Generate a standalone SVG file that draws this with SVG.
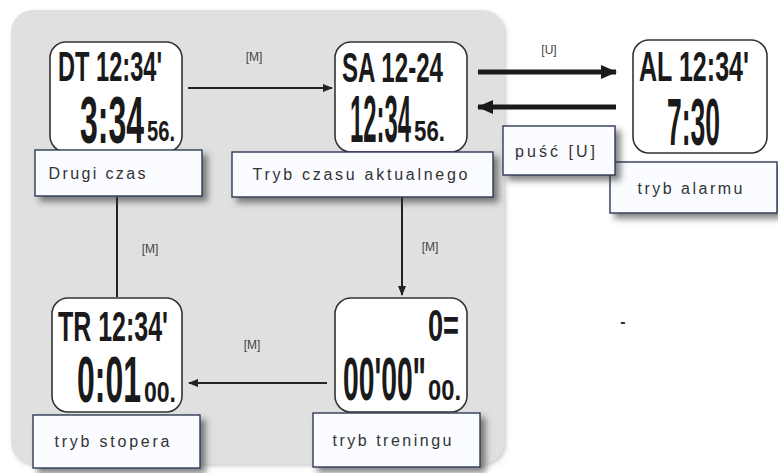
<svg xmlns="http://www.w3.org/2000/svg" width="778" height="473" viewBox="0 0 778 473">
<style>
.lcd{fill:#fff;stroke:#333;stroke-width:1.6}
.lbl{fill:#fafcff;stroke:#2e3a55;stroke-width:1.4;filter:url(#sh)}
.lt{font-family:"Liberation Sans",Arial,sans-serif;font-size:16px;fill:#333;text-anchor:middle}
.key{font-family:"Liberation Sans",Arial,sans-serif;font-size:12px;fill:#444;text-anchor:middle}
.seg{font-family:"Liberation Sans","DejaVu Sans",sans-serif;font-weight:bold;fill:#1a1a1a}
.thin{stroke:#222;stroke-width:2;fill:none}
.thick{stroke:#1a1a1a;stroke-width:5;fill:none}
</style>
<defs>
<filter id="sh" x="-10%" y="-20%" width="130%" height="160%">
<feDropShadow dx="5" dy="5" stdDeviation="3" flood-color="#333" flood-opacity="0.6"/>
</filter>
<filter id="psh" x="-5%" y="-5%" width="110%" height="110%">
<feDropShadow dx="2" dy="2" stdDeviation="2" flood-color="#999" flood-opacity="0.5"/>
</filter>
<marker id="ah" markerWidth="10" markerHeight="8" refX="9" refY="4" orient="auto" markerUnits="userSpaceOnUse">
<path d="M0,0 L10,4 L0,8 z" fill="#222"/>
</marker>
<marker id="ahb" markerWidth="16" markerHeight="14" refX="15" refY="7" orient="auto" markerUnits="userSpaceOnUse">
<path d="M0,0 L16,7 L0,14 z" fill="#1a1a1a"/>
</marker>
</defs>
<rect x="11" y="10" width="493" height="454" rx="22" fill="#e0e0e0" filter="url(#psh)"/>

<g id="connectors">
<line class="thin" x1="188" y1="88" x2="332" y2="88" marker-end="url(#ah)"/>
<line class="thick" x1="478" y1="72" x2="616" y2="72" marker-end="url(#ahb)"/>
<line class="thick" x1="616" y1="107" x2="478" y2="107" marker-end="url(#ahb)"/>
<line class="thin" x1="117" y1="197" x2="117" y2="297"/>
<line class="thin" x1="402" y1="197" x2="402" y2="295" marker-end="url(#ah)"/>
<line class="thin" x1="327" y1="383" x2="189" y2="383" marker-end="url(#ah)"/>
<text class="key" x="254" y="61">[M]</text>
<text class="key" x="549" y="54">[U]</text>
<text class="key" x="150" y="253">[M]</text>
<text class="key" x="430" y="251">[M]</text>
<text class="key" x="252" y="349">[M]</text>
</g>

<g id="drugi-czas">
<rect class="lcd" x="50" y="42" width="132" height="110" rx="16"/>
<text class="seg" x="58" y="81" font-size="42" textLength="104" lengthAdjust="spacingAndGlyphs">DT 12:34'</text>
<text class="seg" x="80" y="143" font-size="66" textLength="64" lengthAdjust="spacingAndGlyphs">3:34</text>
<text class="seg" x="147" y="141" font-size="30" textLength="28" lengthAdjust="spacingAndGlyphs">56.</text>
<rect class="lbl" x="35" y="150" width="167" height="46"/>
<text class="lt" x="97" y="179" textLength="97" lengthAdjust="spacing">Drugi czas</text>
</g>

<g id="tryb-czasu">
<rect class="lcd" x="335" y="42" width="132" height="110" rx="16"/>
<text class="seg" x="342" y="82" font-size="42" textLength="101" lengthAdjust="spacingAndGlyphs">SA 12-24</text>
<text class="seg" x="350" y="142" font-size="66" textLength="61" lengthAdjust="spacingAndGlyphs">12:34</text>
<text class="seg" x="414" y="141" font-size="30" textLength="31" lengthAdjust="spacingAndGlyphs">56.</text>
<rect class="lbl" x="232" y="152" width="261" height="45"/>
<text class="lt" x="360" y="180" textLength="215" lengthAdjust="spacing">Tryb czasu aktualnego</text>
</g>

<g id="tryb-alarmu">
<rect class="lcd" x="633" y="40" width="134" height="113" rx="16"/>
<text class="seg" x="639" y="81" font-size="42" textLength="110" lengthAdjust="spacingAndGlyphs">AL 12:34'</text>
<text class="seg" x="667" y="145" font-size="66" textLength="53" lengthAdjust="spacingAndGlyphs">7:30</text>
<rect class="lbl" x="610" y="162" width="167" height="51"/>
<text class="lt" x="690" y="194" textLength="105" lengthAdjust="spacing">tryb alarmu</text>
</g>

<g id="pusc">
<rect class="lbl" x="503" y="126" width="112" height="49"/>
<text class="lt" x="555" y="157" textLength="80" lengthAdjust="spacing">puść [U]</text>
</g>

<g id="tryb-stopera">
<rect class="lcd" x="52" y="298" width="130" height="114" rx="16"/>
<text class="seg" x="58" y="341" font-size="42" textLength="110" lengthAdjust="spacingAndGlyphs">TR 12:34'</text>
<text class="seg" x="77" y="402" font-size="64" textLength="64" lengthAdjust="spacingAndGlyphs">0:01</text>
<text class="seg" x="144" y="402" font-size="30" textLength="32" lengthAdjust="spacingAndGlyphs">00.</text>
<rect class="lbl" x="33" y="415" width="167" height="53"/>
<text class="lt" x="112" y="447" textLength="115" lengthAdjust="spacing">tryb stopera</text>
</g>

<g id="tryb-treningu">
<rect class="lcd" x="335" y="298" width="132" height="114" rx="16"/>
<text class="seg" x="428" y="341" font-size="44" textLength="31" lengthAdjust="spacingAndGlyphs">0=</text>
<text class="seg" x="343" y="400" font-size="62" textLength="83" lengthAdjust="spacingAndGlyphs">00'00"</text>
<text class="seg" x="428" y="400" font-size="30" textLength="33" lengthAdjust="spacingAndGlyphs">00.</text>
<rect class="lbl" x="313" y="413" width="167" height="54"/>
<text class="lt" x="392" y="446" textLength="119" lengthAdjust="spacing">tryb treningu</text>
</g>

<text x="623" y="327" font-family="Liberation Sans,Arial,sans-serif" font-size="16" font-weight="bold" fill="#333" text-anchor="middle">-</text>
</svg>
